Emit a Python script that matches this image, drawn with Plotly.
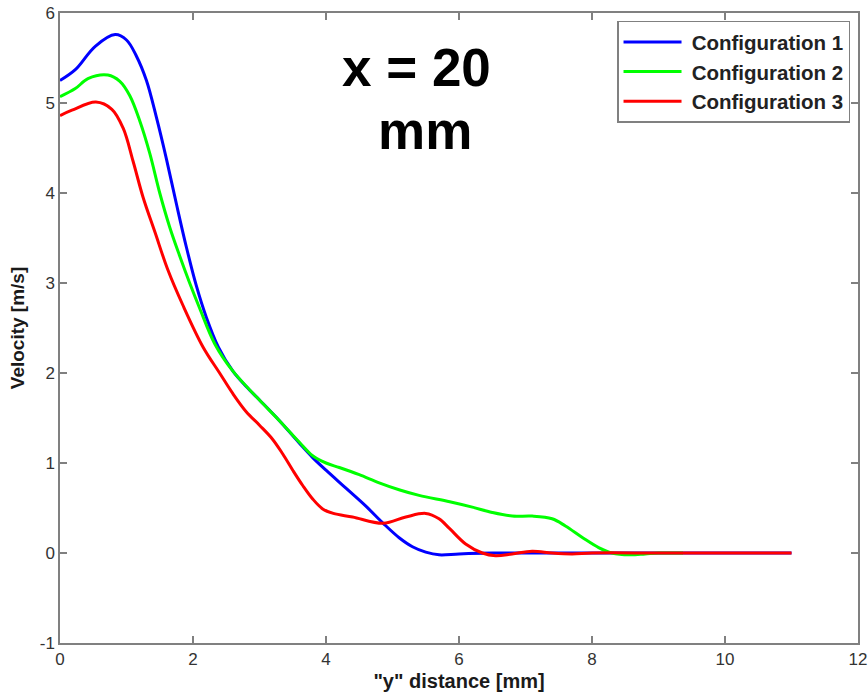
import plotly.graph_objects as go

# Configuration 1 (blue)
x1 = [0, 0.23, 0.53, 0.83, 1.0, 1.15, 1.3, 1.45, 1.6, 1.75, 1.9, 2.05, 2.2, 2.38, 2.6, 2.8, 3.0, 3.3,
      3.6, 3.8, 4.0, 4.3, 4.6, 4.86, 5.1, 5.3, 5.5, 5.7, 6.0, 6.5, 7.0, 8.0, 9.0, 10.0, 11.0]
y1 = [5.25, 5.37, 5.63, 5.76, 5.70, 5.52, 5.25, 4.84, 4.38, 3.88, 3.40, 2.97, 2.62, 2.29, 2.02, 1.85, 1.70, 1.47,
      1.22, 1.06, 0.92, 0.72, 0.52, 0.33, 0.17, 0.07, 0.01, -0.02, -0.01, 0.0, 0.0, 0.0, 0.0, 0.0, 0.0]

# Configuration 2 (green)
x2 = [0, 0.23, 0.42, 0.72, 0.9, 1.05, 1.2, 1.35, 1.5, 1.65, 1.8, 1.95, 2.1, 2.33, 2.6, 2.96, 3.3, 3.6,
      3.8, 4.0, 4.2, 4.5, 4.8, 5.11, 5.4, 5.86, 6.2, 6.5, 6.8, 7.1, 7.4, 7.6, 7.86, 8.1, 8.3, 8.57, 8.8,
      9.0, 9.37]
y2 = [5.07, 5.16, 5.27, 5.31, 5.24, 5.08, 4.80, 4.44, 4.0, 3.62, 3.30, 3.0, 2.72, 2.32, 2.02, 1.73, 1.47, 1.23,
      1.08, 1.0, 0.95, 0.87, 0.78, 0.70, 0.64, 0.57, 0.51, 0.45, 0.41, 0.41, 0.38, 0.30, 0.17, 0.06, 0.0, -0.02, -0.01,
      0.0, 0.0]

# Configuration 3 (red)
x3 = [0, 0.18, 0.54, 0.78, 0.95, 1.1, 1.25, 1.43, 1.62, 1.85, 2.15, 2.4, 2.6, 2.8, 3.0, 3.19, 3.35, 3.5,
      3.65, 3.8, 3.95, 4.11, 4.4, 4.86, 5.2, 5.5, 5.7, 5.86, 6.1, 6.35, 6.55, 6.8, 7.1, 7.4, 7.7, 8.0, 9.0,
      10.0, 11.0]
y3 = [4.86, 4.92, 5.01, 4.93, 4.72, 4.35, 3.95, 3.56, 3.15, 2.75, 2.29, 2.0, 1.77, 1.57, 1.42, 1.27, 1.10, 0.92,
      0.75, 0.60, 0.49, 0.44, 0.40, 0.33, 0.40, 0.44, 0.38, 0.27, 0.10, 0.0, -0.03, -0.01, 0.02, 0.0, -0.01, 0.0, 0.0,
      0.0, 0.0]

names = ["Configuration 1", "Configuration 2", "Configuration 3"]
colors = ["#0000ff", "#00ff00", "#ff0000"]

x_ticks = [0, 2, 4, 6, 8, 10, 12]
y_ticks = [-1, 0, 1, 2, 3, 4, 5, 6]

FONT = "Liberation Sans, Arial, sans-serif"

fig = go.Figure()
for xs, ys, n, c in zip([x1, x2, x3], [y1, y2, y3], names, colors):
    fig.add_trace(go.Scatter(x=xs, y=ys, mode="lines", name="\u2005<b>" + n + "</b>", legendgroup=n,
                             hoverinfo="skip",
                             line=dict(color=c, width=3, shape="spline", smoothing=1.0)))

axis_common = dict(showgrid=False, zeroline=False, showline=True, linecolor="#808080", linewidth=1.5,
                   mirror="ticks", ticks="inside", ticklen=7, tickcolor="#808080", tickwidth=1.5,
                   tickfont=dict(family=FONT, size=17, color="#333333"), automargin=False)

fig.update_layout(
    width=868, height=694,
    margin=dict(l=60, r=10, t=13, b=51),
    paper_bgcolor="white", plot_bgcolor="white",
    font=dict(family=FONT),
    xaxis=dict(range=[0, 12], tickvals=x_ticks, ticktext=[str(v) for v in x_ticks],
               title=dict(text='<b>"y" distance [mm]</b>', font=dict(family=FONT, size=20, color="#1a1a1a"),
                          standoff=6),
               **axis_common),
    yaxis=dict(range=[-1, 6], tickvals=y_ticks, ticktext=[str(v) for v in y_ticks],
               title=dict(text="<b>Velocity [m/s]</b>", font=dict(family=FONT, size=19, color="#1a1a1a"),
                          standoff=10),
               **axis_common),
    legend=dict(x=0.99, y=0.988, xanchor="right", yanchor="top", bgcolor="white",
                bordercolor="#808080", borderwidth=1.5, itemwidth=58,
                traceorder="grouped", tracegroupgap=0,
                font=dict(family=FONT, size=20.5, color="#222222")),
    showlegend=True,
)

fig.add_annotation(text="<b>x = 20</b>", x=(416 - 60) / 798, y=(643 - 67) / 630, xref="paper", yref="paper",
                   xanchor="center", yanchor="middle",
                   showarrow=False, font=dict(family=FONT, size=53, color="black"))
fig.add_annotation(text="<b>mm</b>", x=(425 - 60) / 798, y=(643 - 130) / 630, xref="paper", yref="paper",
                   xanchor="center", yanchor="middle",
                   showarrow=False, font=dict(family=FONT, size=53, color="black"))

fig.write_html("out.html", config={"displayModeBar": False},
               post_script="document.body.style.margin='0';document.body.style.overflow='hidden';")
